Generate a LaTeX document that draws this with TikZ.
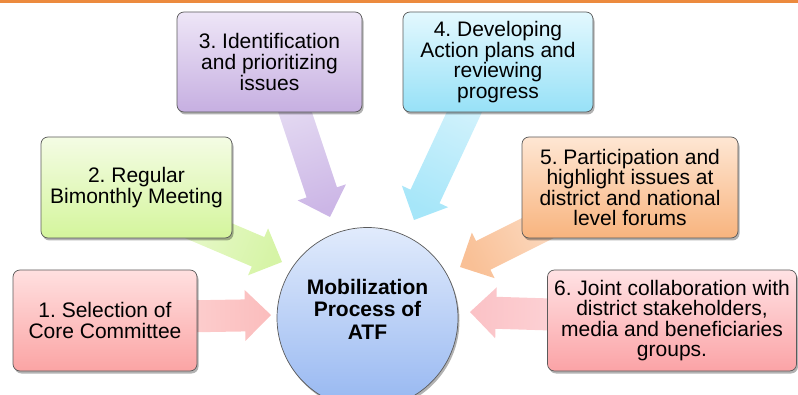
\documentclass[tikz,border=0pt]{standalone}
\usepackage{fontspec}
\setmainfont{Liberation Sans}
\frenchspacing
\usetikzlibrary{calc,shadows,backgrounds}
\definecolor{barorange}{HTML}{EC8A3E}
\definecolor{edgegray}{HTML}{5A5A5A}
\definecolor{bAt}{HTML}{FFE0E0}\definecolor{bAb}{HTML}{FBA4A4}
\definecolor{bBt}{HTML}{F4FCE4}\definecolor{bBb}{HTML}{D4F59C}
\definecolor{bCt}{HTML}{EEE6F7}\definecolor{bCb}{HTML}{C6AFE1}
\definecolor{bDt}{HTML}{E3F8FE}\definecolor{bDb}{HTML}{97E1F7}
\definecolor{bEt}{HTML}{FEE6D3}\definecolor{bEb}{HTML}{F8B47E}
\definecolor{bFt}{HTML}{FFE2E4}\definecolor{bFb}{HTML}{FBA3A6}
\definecolor{cTop}{HTML}{E1EBFC}\definecolor{cBot}{HTML}{96B7F1}
\definecolor{aAl}{HTML}{FDD6D6}\definecolor{aAd}{HTML}{FBBDBD}
\definecolor{aBl}{HTML}{E8F9CC}\definecolor{aBd}{HTML}{D6F4A6}
\definecolor{aCl}{HTML}{E4DAF2}\definecolor{aCd}{HTML}{CCB6E6}
\definecolor{aDl}{HTML}{D2F2FC}\definecolor{aDd}{HTML}{A6E6F9}
\definecolor{aEl}{HTML}{FCDCC4}\definecolor{aEd}{HTML}{F9C096}
\definecolor{aFl}{HTML}{FDD9DC}\definecolor{aFd}{HTML}{FBC2C6}
\newcommand\blockarrow[3]{%
  \path (#2) coordinate (bt) ($(#2)!26pt!(#1)$) coordinate (bb);
  \shade[#3] ($(#1)!16pt!-90:(#2)$) -- ($(bb)!16pt!-90:(bt)$) -- ($(bb)!25.5pt!-90:(bt)$) -- (bt)
    -- ($(bb)!25.5pt!90:(bt)$) -- ($(bb)!16pt!90:(bt)$) -- ($(#1)!16pt!90:(#2)$) -- cycle;
}
\tikzset{
  stepbox/.style={rectangle, rounded corners=7pt, draw=edgegray, line width=0.7pt,
    inner sep=0pt, align=center, font=\fontsize{21}{21}\selectfont,
    drop shadow={shadow xshift=1.5pt, shadow yshift=-2.5pt, opacity=0.3, fill=black}},
  tallbox/.style={stepbox, font=\fontsize{21}{20.6}\selectfont},
  hub/.style={circle, draw=edgegray, line width=0.7pt, top color=cTop, bottom color=cBot,
    minimum size=181pt, inner sep=0pt,
    drop shadow={shadow xshift=1.5pt, shadow yshift=-2.5pt, opacity=0.3, fill=black}},
  hubtext/.style={inner sep=0pt, align=center, font=\fontsize{21}{22.5}\selectfont\bfseries},
  arrowfill/.style n args={3}{top color=#2, bottom color=#1, shading angle=#3},
}
\begin{document}
\begin{tikzpicture}[x=1pt, y=-1pt]
\useasboundingbox (0,0) rectangle (798,395);
\fill[barorange] (0,0) rectangle (798,3.5);
\node[stepbox, top color=bAt, bottom color=bAb, minimum width=184pt, minimum height=101pt] (n1) at (105,320.5) {1. Selection of\\Core Committee};
\node[stepbox, top color=bBt, bottom color=bBb, minimum width=191pt, minimum height=101pt] (n2) at (136.5,187.5) {2. Regular\\Bimonthly Meeting};
\node[stepbox, top color=bCt, bottom color=bCb, minimum width=185pt, minimum height=100pt] (n3) at (269.5,62) {3. Identification\\and prioritizing\\issues};
\node[tallbox, top color=bDt, bottom color=bDb, minimum width=190pt, minimum height=100pt] (n4) at (498,62) {4. Developing\\Action plans and\\reviewing\\progress};
\node[tallbox, top color=bEt, bottom color=bEb, minimum width=216pt, minimum height=101pt] (n5) at (630,187.5) {5. Participation and\\highlight issues at\\district and national\\level forums};
\node[tallbox, top color=bFt, bottom color=bFb, minimum width=249pt, minimum height=101pt] (n6) at (672,320.5) {6. Joint collaboration with\\district stakeholders,\\media and beneficiaries\\groups.};
\node[hub] (c) at (367.5,318) {};
\node[hubtext] (ct) at ($(c.center)+(0,-9)$) {Mobilization\\Process of\\ATF};
\coordinate (a1s) at (150,317); \coordinate (a1t) at (271,315);
\coordinate (a2s) at (181,219); \coordinate (a2t) at (282,262);
\coordinate (a3s) at (291,100); \coordinate (a3t) at (330,217);
\coordinate (a4s) at (470,100); \coordinate (a4t) at (414,220);
\coordinate (a5s) at (560,217); \coordinate (a5t) at (460,267);
\coordinate (a6s) at (600,316); \coordinate (a6t) at (470,312);
\begin{scope}[on background layer]
\blockarrow{a1s}{a1t}{arrowfill={aAl}{aAd}{-89}}
\blockarrow{a2s}{a2t}{arrowfill={aBl}{aBd}{-113}}
\blockarrow{a3s}{a3t}{arrowfill={aCl}{aCd}{-161.6}}
\blockarrow{a4s}{a4t}{arrowfill={aDl}{aDd}{-205}}
\blockarrow{a5s}{a5t}{arrowfill={aEl}{aEd}{-243.4}}
\blockarrow{a6s}{a6t}{arrowfill={aFl}{aFd}{88.2}}
\end{scope}
\end{tikzpicture}
\end{document}
